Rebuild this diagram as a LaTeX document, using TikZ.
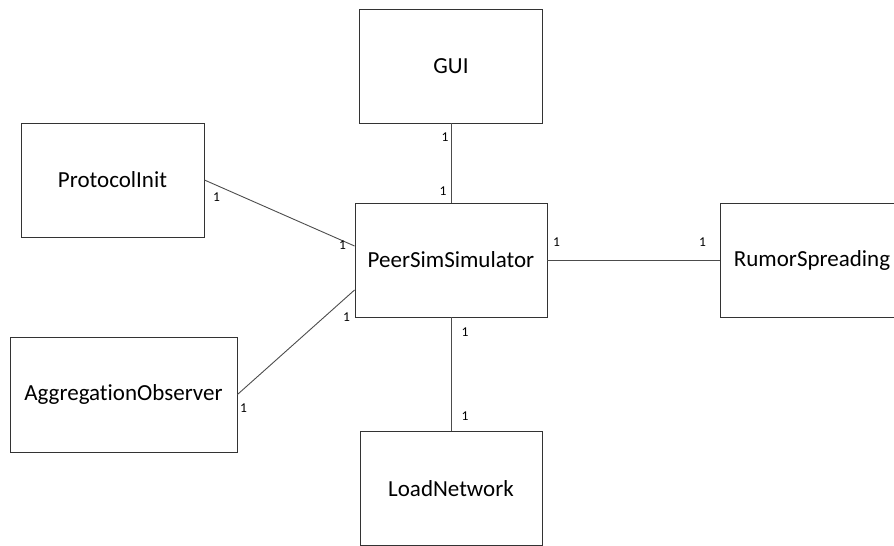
\documentclass[tikz,border=0pt]{standalone}
\usepackage{fontspec}
\setmainfont[Ligatures=NoCommon]{Carlito}
\usepackage{tikz}
\usetikzlibrary{calc, positioning}

\tikzset{
    cls/.style={draw=black!80, line width=0.9pt, fill=white, inner sep=0pt,
                minimum height=114pt, font=\fontsize{23}{26}\selectfont},
    assoc/.style={draw=black!70, line width=0.9pt},
    mult/.style={inner sep=0pt, font=\fontsize{13.5}{15}\selectfont}
}

\begin{document}
\begin{tikzpicture}[x=1pt, y=-1pt]
        \clip (0,0) rectangle (894,546);

        %coordinates
        \coordinate (core) at (451,260);

        %nodes
        \node[cls, minimum width=192pt] (PS) at (core) {PeerSimSimulator};
        \node[cls, minimum width=183pt] (GUI) at ($(core) + (0,-194)$) {GUI};
        \node[cls, minimum width=183pt] (PI) at (112.5,180) {ProtocolInit};
        \node[cls, minimum width=227pt, minimum height=115pt] (AO) at (123.5,394.5) {AggregationObserver};
        \node[cls, minimum width=182pt] (LN) at ($(core) + (0,228.5)$) {LoadNetwork};
        \node[cls, minimum width=184pt] (RS) at ($(core) + (361,0)$) {RumorSpreading};

        %edges
        \draw[assoc] (GUI.south) -- (PS.north);
        \draw[assoc] (PI.east) -- ($(PS.west) + (0,-14)$);
        \draw[assoc] (AO.east) -- ($(PS.west) + (0,30)$);
        \draw[assoc] (PS.east) -- (RS.west);
        \draw[assoc] (PS.south) -- (LN.north);

        %multiplicities
        \node[mult] (m1) at ($(GUI.south) + (-6,14)$) {1};
        \node[mult] (m2) at ($(PS.north) + (-8,-11)$) {1};
        \node[mult] (m3) at ($(PI.east) + (12,17)$) {1};
        \node[mult] (m4) at ($(PS.west) + (-12,-15)$) {1};
        \node[mult] (m5) at ($(AO.east) + (6,13.5)$) {1};
        \node[mult] (m6) at ($(PS.west) + (-8,57)$) {1};
        \node[mult] (m7) at ($(PS.east) + (9,-18)$) {1};
        \node[mult] (m8) at ($(RS.west) + (-17,-18)$) {1};
        \node[mult] (m9) at ($(PS.south) + (14,15)$) {1};
        \node[mult] (m10) at ($(LN.north) + (14,-15)$) {1};
\end{tikzpicture}
\end{document}
